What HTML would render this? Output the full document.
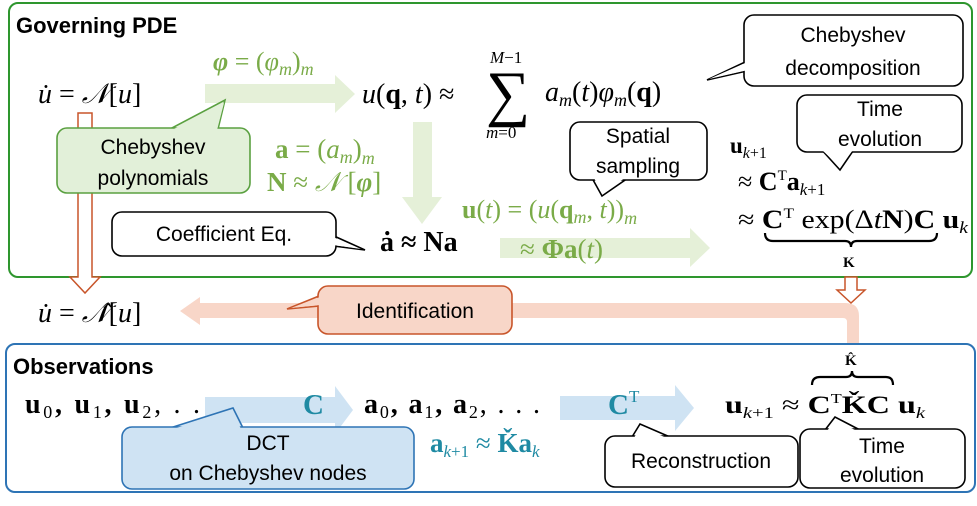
<!DOCTYPE html>
<html><head><meta charset="utf-8"><style>
html,body{margin:0;padding:0;background:#fff}
svg{display:block}
.m{font-family:"Liberation Serif",serif;}
.s{font-family:"Liberation Sans",sans-serif;}
</style></head><body>
<svg width="977" height="506" viewBox="0 0 977 506" xmlns="http://www.w3.org/2000/svg">
<rect x="9" y="3" width="963" height="274" rx="9" fill="#fff" stroke="#2e962e" stroke-width="2"/>
<rect x="6" y="344" width="969" height="148" rx="9" fill="#fff" stroke="#2e74b5" stroke-width="2"/>

<path d="M859 310 L859 343 L847 343 L847 322 Q847 318 843 318 L200 318 L200 325 L180 311 L200 297 L200 303 L845 303 Q859 303 859 316 Z" fill="#f8d6c8"/>
<path d="M78 113 L92 113 L92 277 L100 277 L85 293 L70 277 L78 277 Z" fill="#fff" stroke="#c8552a" stroke-width="1.5"/>
<path d="M845 277 L857 277 L857 290 L865 290 L851 303 L837 290 L845 290 Z" fill="#fff" stroke="#c8552a" stroke-width="1.5"/>

<path d="M205 84 L335 84 L335 75 L355 94 L335 113 L335 103 L205 103 Z" fill="#e5f0d8"/>
<path d="M413 122 L432 122 L432 197 L442 197 L422 224 L402 197 L413 197 Z" fill="#e5f0d8"/>
<path d="M500 238 L690 238 L690 228 L710 248 L690 267 L690 258 L500 258 Z" fill="#e5f0d8"/>
<path d="M205 397 L335 397 L335 386 L353 410 L335 434 L335 423 L205 423 Z" fill="#cfe3f3"/>
<path d="M560 396 L675 396 L675 385 L694 408 L675 431 L675 420 L560 420 Z" fill="#cfe3f3"/>

<text x="16" y="33" class="s" font-size="22" font-weight="bold">Governing PDE</text>
<text x="13" y="374" class="s" font-size="22" font-weight="bold">Observations</text>

<text x="38" y="103" class="m" font-size="28" font-style="italic">u̇ <tspan font-style="normal">=</tspan> 𝒩<tspan font-style="normal">[</tspan>u<tspan font-style="normal">]</tspan></text>
<text x="213" y="70" class="m" font-size="26" fill="#7aab48"><tspan font-weight="bold" font-style="italic">φ</tspan> = (<tspan font-style="italic">φ<tspan font-size="18" dy="5">m</tspan></tspan><tspan dy="-5">)</tspan><tspan font-style="italic" font-size="18" dy="5">m</tspan></text>
<text x="362" y="103" class="m" font-size="28"><tspan font-style="italic">u</tspan>(<tspan font-weight="bold">q</tspan>, <tspan font-style="italic">t</tspan>) ≈</text>
<text x="486" y="114" class="m" font-size="62">∑</text>
<text x="490" y="63" class="m" font-size="17" font-style="italic">M<tspan font-style="normal">−1</tspan></text>
<text x="486" y="138" class="m" font-size="17" font-style="italic">m<tspan font-style="normal">=0</tspan></text>
<text x="545" y="101" class="m" font-size="28"><tspan font-style="italic">a<tspan font-size="18" dy="5">m</tspan></tspan><tspan dy="-5">(</tspan><tspan font-style="italic">t</tspan>)<tspan font-style="italic">φ<tspan font-size="18" dy="5">m</tspan></tspan><tspan dy="-5">(</tspan><tspan font-weight="bold">q</tspan>)</text>
<text x="275" y="158" class="m" font-size="27" fill="#7aab48"><tspan font-weight="bold">a</tspan> = (<tspan font-style="italic">a<tspan font-size="18" dy="5">m</tspan></tspan><tspan dy="-5">)</tspan><tspan font-style="italic" font-size="18" dy="6">m</tspan></text>
<text x="267" y="191" class="m" font-size="27" fill="#7aab48"><tspan font-weight="bold">N</tspan> ≈ <tspan font-style="italic">𝒩</tspan> [<tspan font-weight="bold" font-style="italic">φ</tspan>]</text>
<text x="380" y="251" class="m" font-size="28" font-weight="bold">ȧ ≈ Na</text>
<text x="462" y="218" class="m" font-size="26" fill="#7aab48"><tspan font-weight="bold">u</tspan>(<tspan font-style="italic">t</tspan>) = (<tspan font-style="italic">u</tspan>(<tspan font-weight="bold">q</tspan><tspan font-style="italic" font-size="18" dy="5">m</tspan><tspan dy="-5">, </tspan><tspan font-style="italic">t</tspan>))<tspan font-style="italic" font-size="18" dy="6">m</tspan></text>
<text x="520" y="258" class="m" font-size="27" fill="#7aab48">≈ <tspan font-weight="bold">Φa</tspan>(<tspan font-style="italic">t</tspan>)</text>
<text x="730" y="153" class="m" font-size="23" font-weight="bold">u<tspan font-size="16" font-weight="normal" font-style="italic" dy="5">k</tspan><tspan font-size="16" font-weight="normal">+1</tspan></text>
<text x="738" y="190" class="m" font-size="26">≈ <tspan font-weight="bold">C</tspan><tspan font-size="15" dy="-10">T</tspan><tspan font-weight="bold" dy="10">a</tspan><tspan font-size="17" font-style="italic" dy="5">k</tspan><tspan font-size="17">+1</tspan></text>
<text x="738" y="228" class="m" font-size="26" textLength="230" lengthAdjust="spacingAndGlyphs">≈ <tspan font-weight="bold">C</tspan><tspan font-size="15" dy="-10">T</tspan><tspan dy="10"> exp(Δ</tspan><tspan font-style="italic">t</tspan><tspan font-weight="bold">N</tspan>)<tspan font-weight="bold">C u</tspan><tspan font-size="17" font-style="italic" dy="5">k</tspan></text>
<path d="M765 233 Q765 241 773 241 L845 241 Q851 241 851 247 Q851 241 857 241 L929 241 Q937 241 937 233" fill="none" stroke="#000" stroke-width="2.2"/>
<text x="843" y="267" class="m" font-size="15" font-weight="bold">K</text>

<text x="38" y="322" class="m" font-size="28" font-style="italic">u̇ <tspan font-style="normal">=</tspan> 𝒩̂<tspan font-style="normal">[</tspan>u<tspan font-style="normal">]</tspan></text>
<text x="25" y="413" class="m" font-size="28" font-weight="bold" textLength="175" lengthAdjust="spacing">u<tspan font-size="18" font-weight="normal" dy="5">0</tspan><tspan dy="-5">, u</tspan><tspan font-size="18" font-weight="normal" dy="5">1</tspan><tspan dy="-5">, u</tspan><tspan font-size="18" font-weight="normal" dy="5">2</tspan><tspan dy="-5" font-weight="normal">, . .</tspan></text>
<text x="303" y="414" class="m" font-size="29" font-weight="bold" fill="#1f8aa3">C</text>
<text x="364" y="413" class="m" font-size="28" font-weight="bold" textLength="176" lengthAdjust="spacing">a<tspan font-size="18" font-weight="normal" dy="5">0</tspan><tspan dy="-5">, a</tspan><tspan font-size="18" font-weight="normal" dy="5">1</tspan><tspan dy="-5">, a</tspan><tspan font-size="18" font-weight="normal" dy="5">2</tspan><tspan dy="-5" font-weight="normal">, . . .</tspan></text>
<text x="608" y="414" class="m" font-size="29" fill="#1f8aa3"><tspan font-weight="bold">C</tspan><tspan font-size="17" dy="-12">T</tspan></text>
<text x="430" y="452" class="m" font-size="27" fill="#1f8aa3"><tspan font-weight="bold">a</tspan><tspan font-size="17" font-style="italic" dy="5">k</tspan><tspan font-size="17">+1</tspan><tspan dy="-5"> ≈ </tspan><tspan font-weight="bold">Ǩa</tspan><tspan font-size="17" font-style="italic" dy="5">k</tspan></text>
<text x="725" y="413" class="m" font-size="25" textLength="200" lengthAdjust="spacingAndGlyphs"><tspan font-weight="bold">u</tspan><tspan font-size="16" font-style="italic" dy="5">k</tspan><tspan font-size="16">+1</tspan><tspan dy="-5"> ≈ </tspan><tspan font-weight="bold">C</tspan><tspan font-size="14" dy="-10">T</tspan><tspan font-weight="bold" dy="10">ǨC u</tspan><tspan font-size="16" font-style="italic" dy="5">k</tspan></text>
<path d="M812 385 Q812 377 820 377 L846 377 Q852 377 852 371 Q852 377 858 377 L886 377 Q893 377 893 385" fill="none" stroke="#000" stroke-width="2.2"/>
<text x="845" y="365" class="m" font-size="15" font-weight="bold">K̂</text>

<g stroke="#000" stroke-width="1.6" fill="#fff">
<polygon points="760,55 707,80 760,68"/>
<rect x="744" y="15" width="219" height="71" rx="10"/>
<polygon points="761,56 709,79 761,67" stroke="none"/>
<polygon points="820,148 840,170 855,148"/>
<rect x="797" y="95" width="165" height="57" rx="10"/>
<polygon points="822,150 840,167 853,150" stroke="none"/>
<polygon points="592,178 602,196 628,178"/>
<rect x="570" y="122" width="137" height="58" rx="10"/>
<polygon points="594,178 602,193 625,178" stroke="none"/>
<polygon points="334,236 365,250 334,246"/>
<rect x="112" y="212" width="224" height="44" rx="10"/>
<polygon points="333,237 361,249 333,245" stroke="none"/>
<polygon points="632,437 640,424 670,437"/>
<rect x="605" y="436" width="193" height="51" rx="10"/>
<polygon points="634,438 640,427 667,438" stroke="none"/>
<polygon points="825,430 835,417 860,430"/>
<rect x="800" y="429" width="165" height="59" rx="10"/>
<polygon points="827,431 835,420 857,431" stroke="none"/>
</g>
<g stroke="#5aa040" stroke-width="1.6" fill="#e2f0d9">
<polygon points="170,129 225,100 218,129"/>
<rect x="57" y="128" width="193" height="65" rx="10"/>
<polygon points="172,130 224,103 217,130" stroke="none"/>
</g>
<g stroke="#2e74b5" stroke-width="1.6" fill="#cfe3f3">
<polygon points="170,428 233,408 243,428"/>
<rect x="122" y="427" width="292" height="62" rx="10"/>
<polygon points="173,429 232,411 241,429" stroke="none"/>
</g>
<g stroke="#c8552a" stroke-width="1.6" fill="#f8d6c8">
<polygon points="319,296 287,309 319,306"/>
<rect x="318" y="286" width="194" height="48" rx="10"/>
<polygon points="320,297 291,308 320,305" stroke="none"/>
</g>

<g class="s" font-size="21" text-anchor="middle" fill="#000">
<text x="853" y="42">Chebyshev</text>
<text x="853" y="75">decomposition</text>
<text x="880" y="116">Time</text>
<text x="880" y="146">evolution</text>
<text x="638" y="143">Spatial</text>
<text x="638" y="173">sampling</text>
<text x="224" y="241">Coefficient Eq.</text>
<text x="153" y="154">Chebyshev</text>
<text x="153" y="185">polynomials</text>
<text x="415" y="318">Identification</text>
<text x="268" y="450">DCT</text>
<text x="268" y="480">on Chebyshev nodes</text>
<text x="701" y="468">Reconstruction</text>
<text x="882" y="453">Time</text>
<text x="882" y="482">evolution</text>
</g>
</svg>
</body></html>
